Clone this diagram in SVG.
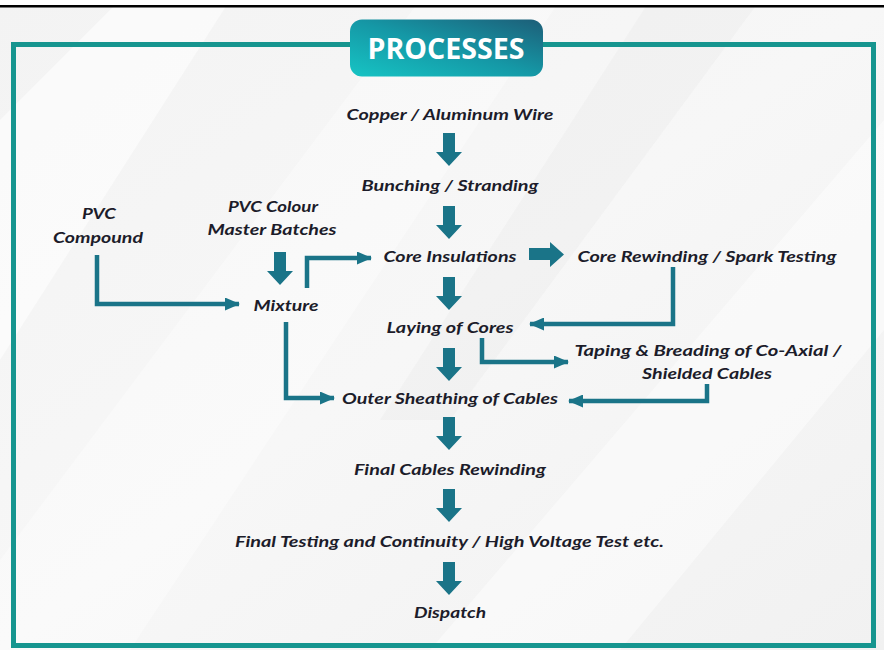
<svg xmlns="http://www.w3.org/2000/svg" width="884" height="650" viewBox="0 0 884 650">
  <defs>
    <linearGradient id="bg" x1="0" y1="0" x2="1" y2="1">
      <stop offset="0" stop-color="#f3f3f3"/>
      <stop offset="0.5" stop-color="#f7f7f7"/>
      <stop offset="1" stop-color="#f1f1f1"/>
    </linearGradient>
    <linearGradient id="title" x1="0" y1="1" x2="1" y2="0">
      <stop offset="0" stop-color="#16c4c4"/>
      <stop offset="0.5" stop-color="#1598a6"/>
      <stop offset="1" stop-color="#1d5e78"/>
    </linearGradient>
    <marker id="ah" viewBox="0 0 15 13" refX="14" refY="6.5" markerWidth="15" markerHeight="13" markerUnits="userSpaceOnUse" orient="auto">
      <path d="M0,0 L15,6.5 L0,13 Z" fill="#1a7488"/>
    </marker>
    <path id="down" d="M-6,0 H6 V19 H13 L0,33 L-13,19 H-6 Z"/>
    <style>
      .t { font-family: Lato, "Open Sans", "Liberation Sans", sans-serif; font-weight: 700; font-style: italic; font-size: 16px; fill: #1c1c2a; text-anchor: middle; }
      .blk { fill: #1a7488; }
      .con { fill: none; stroke: #1a7488; stroke-width: 4.5; marker-end: url(#ah); }
    </style>
  </defs>

  <!-- background -->
  <rect x="0" y="0" width="884" height="650" fill="url(#bg)"/>
  <polygon points="0,120 120,0 230,0 0,360" fill="#ffffff" opacity="0.55"/>
  <polygon points="0,650 0,560 420,0 560,0 130,650" fill="#ffffff" opacity="0.35"/>
  <polygon points="430,650 884,120 884,330 620,650" fill="#ffffff" opacity="0.45"/>
  <polygon points="650,0 760,0 450,420 380,420" fill="#e9e9e9" opacity="0.35"/>
  <rect x="0" y="0" width="884" height="5" fill="#ffffff"/>
  <rect x="0" y="5" width="884" height="2.5" fill="#000000"/>

  <!-- frame -->
  <rect x="13.5" y="44.5" width="860" height="601" fill="none" stroke="#16958f" stroke-width="5"/>

  <!-- title -->
  <g id="title-box">
    <rect x="350" y="19.5" width="193" height="57" rx="12" fill="url(#title)"/>
    <text x="446" y="59" font-family="'Open Sans', 'Liberation Sans', sans-serif" font-weight="700" font-size="28" fill="#ffffff" text-anchor="middle" textLength="157" lengthAdjust="spacingAndGlyphs">PROCESSES</text>
  </g>

  <!-- connectors -->
  <g id="connectors">
    <use href="#down" x="449" y="133" class="blk"/>
    <use href="#down" x="449" y="206" class="blk"/>
    <use href="#down" x="449" y="277" class="blk"/>
    <use href="#down" x="449" y="348" class="blk"/>
    <use href="#down" x="449" y="417" class="blk"/>
    <use href="#down" x="449" y="489" class="blk"/>
    <use href="#down" x="449" y="562" class="blk"/>
    <use href="#down" x="280" y="252" class="blk"/>
    <path d="M529,248 H550 V242 L564,254.5 L550,267 V260 H529 Z" class="blk"/>
    <path d="M97,255 V304 H239" class="con"/>
    <path d="M307,288 V258 H371" class="con"/>
    <path d="M673,267 V324 H530" class="con"/>
    <path d="M482,338 V362 H568" class="con"/>
    <path d="M286,322 V398 H334" class="con"/>
    <path d="M707,384 V401 H569" class="con"/>
  </g>

  <!-- nodes -->
  <g id="copper"><text class="t" x="450" y="120" textLength="207" lengthAdjust="spacingAndGlyphs">Copper / Aluminum Wire</text></g>
  <g id="bunching"><text class="t" x="450" y="191" textLength="177" lengthAdjust="spacingAndGlyphs">Bunching / Stranding</text></g>
  <g id="pvc-compound">
    <text class="t" x="99" y="219" textLength="34" lengthAdjust="spacingAndGlyphs">PVC</text>
    <text class="t" x="98" y="243" textLength="90" lengthAdjust="spacingAndGlyphs">Compound</text>
  </g>
  <g id="pvc-colour">
    <text class="t" x="273" y="212" textLength="90" lengthAdjust="spacingAndGlyphs">PVC Colour</text>
    <text class="t" x="272" y="235" textLength="129" lengthAdjust="spacingAndGlyphs">Master Batches</text>
  </g>
  <g id="core-insulations"><text class="t" x="450" y="262" textLength="133" lengthAdjust="spacingAndGlyphs">Core Insulations</text></g>
  <g id="core-rewinding"><text class="t" x="707" y="262" textLength="259" lengthAdjust="spacingAndGlyphs">Core Rewinding / Spark Testing</text></g>
  <g id="mixture"><text class="t" x="286" y="311" textLength="65" lengthAdjust="spacingAndGlyphs">Mixture</text></g>
  <g id="laying"><text class="t" x="450" y="333" textLength="127" lengthAdjust="spacingAndGlyphs">Laying of Cores</text></g>
  <g id="taping">
    <text class="t" x="708" y="356" textLength="267" lengthAdjust="spacingAndGlyphs">Taping &amp; Breading of Co-Axial /</text>
    <text class="t" x="707" y="379" textLength="130" lengthAdjust="spacingAndGlyphs">Shielded Cables</text>
  </g>
  <g id="outer-sheathing"><text class="t" x="450" y="404" textLength="216" lengthAdjust="spacingAndGlyphs">Outer Sheathing of Cables</text></g>
  <g id="final-rewinding"><text class="t" x="450" y="475" textLength="192" lengthAdjust="spacingAndGlyphs">Final Cables Rewinding</text></g>
  <g id="final-testing"><text class="t" x="449.5" y="547" textLength="429" lengthAdjust="spacingAndGlyphs">Final Testing and Continuity / High Voltage Test etc.</text></g>
  <g id="dispatch"><text class="t" x="450" y="618" textLength="72" lengthAdjust="spacingAndGlyphs">Dispatch</text></g>
</svg>
